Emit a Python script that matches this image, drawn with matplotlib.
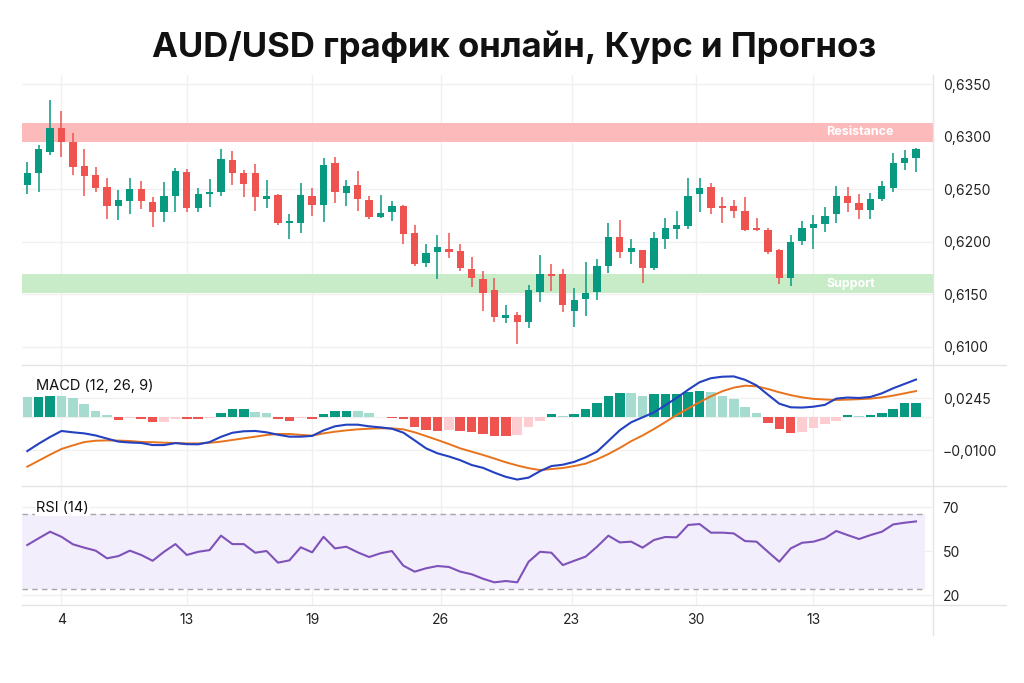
import numpy as np
import matplotlib.pyplot as plt
from matplotlib.lines import Line2D

plt.rcParams['font.family'] = ['Inter', 'DejaVu Sans']

# daily candles (AUD/USD)
opens = [.62539, .62650, .62857, .63082, .62952, .62720, .62635, .62517, .62342, .62390,
         .62501, .62381, .62282, .62435, .62660, .62317, .62450, .62476, .62777, .62650,
         .62650, .62403, .62444, .62177, .62181, .62435, .62349, .62746, .62466, .62539,
         .62396, .62234, .62285, .62339, .62079, .61793, .61905, .61927, .61911, .61736,
         .61644, .61539, .61276, .61302, .61238, .61523, .61692, .61692, .61339, .61450,
         .61523, .61771, .62044, .61905, .61920, .61752, .62025, .62120, .62152, .62450,
         .62523, .62339, .62339, .62295, .62127, .62111, .61920, .61651, .62006, .62133,
         .62165, .62260, .62435, .62371, .62301, .62406, .62514, .62746, .62800]
closes = [.62650, .62879, .63082, .62952, .62714, .62628, .62514, .62342, .62396, .62501,
          .62390, .62285, .62438, .62676, .62323, .62454, .62476, .62790, .62650, .62549,
          .62422, .62438, .62181, .62196, .62441, .62349, .62730, .62476, .62533, .62403,
          .62231, .62276, .62339, .62073, .61787, .61889, .61952, .61905, .61752, .61651,
          .61508, .61279, .61302, .61238, .61539, .61692, .61673, .61397, .61444, .61514,
          .61768, .62041, .61905, .61936, .61752, .62038, .62133, .62158, .62438, .62514,
          .62323, .62323, .62292, .62111, .62114, .61898, .61651, .61993, .62133, .62168,
          .62247, .62438, .62365, .62301, .62403, .62533, .62746, .62793, .62882]
highs = [.62762, .62920, .63349, .63244, .63031, .62885, .62709, .62603, .62492, .62603,
         .62577, .62428, .62568, .62698, .62695, .62514, .62593, .62879, .62863, .62682,
         .62739, .62587, .62450, .62263, .62561, .62508, .62793, .62809, .62587, .62673,
         .62435, .62444, .62390, .62349, .62158, .61977, .62060, .62079, .61977, .61850,
         .61720, .61651, .61397, .61333, .61587, .61873, .61787, .61739, .61555, .61809,
         .61835, .62174, .62206, .62022, .61920, .62089, .62222, .62295, .62609, .62603,
         .62555, .62428, .62396, .62422, .62222, .62127, .61927, .62063, .62196, .62254,
         .62333, .62533, .62523, .62450, .62460, .62581, .62841, .62873, .62889]
lows = [.62454, .62476, .62825, .62809, .62635, .62435, .62476, .62212, .62206, .62263,
        .62308, .62142, .62184, .62285, .62285, .62285, .62327, .62435, .62539, .62428,
        .62292, .62317, .62158, .62022, .62079, .62244, .62184, .62371, .62339, .62295,
        .62215, .62222, .62196, .61977, .61768, .61755, .61641, .61847, .61723, .61571,
        .61343, .61232, .61222, .61022, .61181, .61422, .61530, .61333, .61190, .61295,
        .61444, .61698, .61847, .61787, .61609, .61730, .61927, .62022, .62117, .62279,
        .62260, .62174, .62222, .62101, .62101, .61879, .61593, .61577, .61968, .61927,
        .62095, .62174, .62279, .62215, .62215, .62387, .62476, .62682, .62666]

resistance = (0.6295, 0.6313)
support = (0.6151, 0.6169)

# MACD (12, 26, 9), values x 1e-4
macd_line = [-107, -58, -13, 27, 18, 11, -3, -24, -44, -50, -53, -67, -67, -54, -61, -62, -47, -12, 15, 25,
             27, 18, 2, -11, -11, -6, 31, 58, 69, 69, 58, 51, 42, 16, -36, -89, -122, -143, -168, -200,
             -219, -251, -279, -297, -284, -241, -207, -198, -179, -149, -111, -40, 32, 85, 118, 151, 199, 248, 302, 352,
             379, 389, 391, 368, 331, 269, 209, 185, 183, 189, 201, 243, 250, 247, 254, 278, 312, 341, 370]
signal_line = [-211, -171, -131, -93, -69, -47, -38, -36, -37, -40, -46, -48, -51, -53, -56, -56, -52, -44, -33, -22,
               -11, 0, 7, 7, 1, -4, 11, 22, 31, 38, 42, 45, 44, 38, 18, -7, -33, -60, -89, -111,
               -133, -157, -182, -203, -221, -234, -227, -220, -207, -191, -162, -127, -86, -41, -3, 40, 86, 134, 177, 219,
               258, 292, 316, 329, 325, 307, 285, 266, 251, 241, 237, 234, 236, 239, 243, 251, 263, 278, 293]
histogram = [20, 20.7, 21.7, 21.5, 19, 13.3, 6.7, 2.3, -2.7, -1, -1.3, -5, -4.8, -1.7, -1.9, -2.0, -0.3, 4, 8, 8.2,
             5.7, 4, -1.7, -3.7, -1, -1.3, 3, 6.3, 6.5, 6.1, 4, 0.7, -1, -2, -9.3, -12.7, -13.5, -13.0, -13.3, -14.3,
             -16.7, -18.3, -18.4, -18.2, -10, -3.3, 3.3, 1.3, 3, 8, 14, 21.7, 24.7, 24.5, 21.7, 23, 23.3, 23.6, 25.7, 26.3,
             25.7, 21.3, 18, 10.7, 4, -5.3, -12, -15.3, -14.3, -10.3, -6.7, -3.7, 2.3, 1.7, 2.3, 4, 8, 14, 14.2]

# RSI (14)
rsi = [53.2, 56.8, 60.3, 57.6, 53.6, 51.8, 50.2, 46.1, 47.3, 50.2, 47.9, 44.8, 49.6, 53.7, 47.9, 49.6, 50.5, 58.2, 53.7, 53.7,
       49.1, 50.0, 43.8, 45.0, 52.0, 49.3, 57.6, 51.4, 52.3, 49.3, 46.8, 48.8, 50.0, 42.2, 39.0, 40.8, 42.0, 41.5, 39.0, 37.6,
       35.2, 33.3, 34.0, 33.3, 44.3, 49.6, 49.1, 42.5, 44.8, 47.0, 52.3, 58.2, 54.6, 55.0, 51.8, 55.9, 57.5, 57.3, 63.9, 64.4,
       59.8, 59.8, 59.4, 55.3, 55.0, 49.6, 44.3, 51.4, 54.4, 55.0, 56.8, 60.7, 58.5, 56.4, 58.5, 60.3, 64.2, 65.1, 65.8]

date_ticks = [3, 14, 25, 36.3, 47.8, 58.7, 69]
date_labels = ['4', '13', '19', '26', '23', '30', '13']
price_ticks = [0.6100, 0.6150, 0.6200, 0.6250, 0.6300, 0.6350]

UP, DOWN = '#089981', '#ef5350'
GRID = '#f0f0f0'
LINE = '#e4e4e4'

W, H = 1024, 683
fig = plt.figure(figsize=(W / 100, H / 100), dpi=100)


def box(x0, y0, x1, y1):
    return [x0 / W, 1 - y1 / H, (x1 - x0) / W, (y1 - y0) / H]


ax_p = fig.add_axes(box(22, 75, 933, 364))
ax_m = fig.add_axes(box(22, 365, 933, 486), sharex=ax_p)
ax_r = fig.add_axes(box(22, 486, 933, 605), sharex=ax_p)

x = np.arange(len(opens))
o, c, h, l = map(np.array, (opens, closes, highs, lows))
cols = np.where(c >= o, UP, DOWN)

# MACD histogram lives on its own scale, behind the MACD lines
ax_h = ax_m.twinx()
ax_h.set_zorder(ax_m.get_zorder() - 1)
ax_m.patch.set_visible(False)

for ax in (ax_p, ax_m, ax_r):
    for s in ax.spines.values():
        s.set_visible(False)
    ax.yaxis.tick_right()
    ax.tick_params(length=0, labelsize=10, colors='#222222', pad=7)
    ax.tick_params(axis='x', pad=6)
    ax.set_xticks(date_ticks)
    ax.grid(True, color=GRID, lw=1)
    ax.set_axisbelow(True)

# price panel
ax_p.axhspan(*resistance, color='#fcbaba', lw=0, zorder=1)
ax_p.axhspan(*support, color='#c8ebc8', lw=0, zorder=1)
ax_p.vlines(x, l, h, colors=cols, lw=1.1, zorder=2)
ax_p.bar(x, np.maximum(np.abs(c - o), 0.00012), bottom=np.minimum(o, c), width=0.64, color=cols, zorder=3)
ax_p.text(0.883, sum(resistance) / 2, 'Resistance', transform=ax_p.get_yaxis_transform(),
          color='white', fontsize=9, fontweight='bold', va='center', zorder=4)
ax_p.text(0.883, sum(support) / 2, 'Support', transform=ax_p.get_yaxis_transform(),
          color='white', fontsize=9, fontweight='bold', va='center', zorder=4)
ax_p.set_ylim(0.60835, 0.63587)
ax_p.set_yticks(price_ticks)
ax_p.set_yticklabels([f'{v:.4f}'.replace('.', ',') for v in price_ticks])
ax_p.tick_params(labelbottom=False)
ax_p.set_xlim(-0.465, 79.49)

# MACD panel
hist = np.array(histogram)
prev = np.r_[np.inf, hist[:-1]]
hcols = np.where(hist >= 0, np.where(hist > prev, UP, '#a6dccf'),
                 np.where(hist <= prev, DOWN, '#fdcdd2'))
ax_h.bar(x, hist, width=0.84, color=hcols, zorder=2)
ax_h.set_ylim(-68.7, 52.3)
ax_h.set_yticks([])
ax_h.tick_params(length=0)
for s in ax_h.spines.values():
    s.set_visible(False)
ax_h.axhline(0, color=GRID, lw=1, zorder=1)

ax_m.plot(x, np.array(signal_line) / 1e4, color='#e8731c', lw=1.4, zorder=3)
ax_m.plot(x, np.array(macd_line) / 1e4, color='#2341c0', lw=1.5, zorder=4)
ax_m.set_ylim(-0.0340, 0.0467)
ax_m.set_yticks([0.0245, -0.0100])
ax_m.set_yticklabels(['0,0245', '\u22120,0100'])
ax_m.grid(False)
fig.canvas.draw()
for yv in (0.0245, -0.0100):
    yd = ax_m.transData.transform((0, yv))[1]
    ax_h.axhline(ax_h.transData.inverted().transform((0, yd))[1], color=GRID, lw=1, zorder=1)
for xv in date_ticks:
    ax_h.axvline(xv, color=GRID, lw=1, zorder=1)
ax_m.tick_params(labelbottom=False)
ax_m.text(0.0154, 0.83, 'MACD (12, 26, 9)', transform=ax_m.transAxes, fontsize=10.5,
          color='#111111', va='center')

# RSI panel
ax_r.axhspan(30, 70, xmax=0.991, color='#f3eefc', lw=0, zorder=1)
for lvl in (70, 30):
    ax_r.axhline(lvl, xmax=0.991, color='#a8a8a8', lw=1, ls=(0, (4, 3)), zorder=2)
ax_r.plot(x, rsi, color='#7e52b8', lw=1.5, zorder=3)
ax_r.set_ylim(21.2, 84.7)
ax_r.set_yticks([73.3, 50, 26.5])
ax_r.set_yticklabels(['70', '50', '20'])
ax_r.set_xticklabels(date_labels)
ax_r.text(0.0154, 0.813, 'RSI (14)', transform=ax_r.transAxes, fontsize=10.5, color='#111111',
          va='center', zorder=5, bbox=dict(facecolor='white', edgecolor='none', pad=0.5))

# frame lines
fig.add_artist(Line2D([933 / W, 933 / W], [1 - 75 / H, 1 - 635 / H], color=LINE, lw=1))
for yy in (365, 486, 605):
    fig.add_artist(Line2D([22 / W, 1006 / W], [1 - yy / H] * 2, color=LINE, lw=1))

fig.text(0.502, 1 - 47 / H, 'AUD/USD график онлайн, Курс и Прогноз', ha='center', va='center',
         fontsize=25, fontweight='bold', color='#111111')

fig.savefig('out.png', dpi=100, facecolor='white')
